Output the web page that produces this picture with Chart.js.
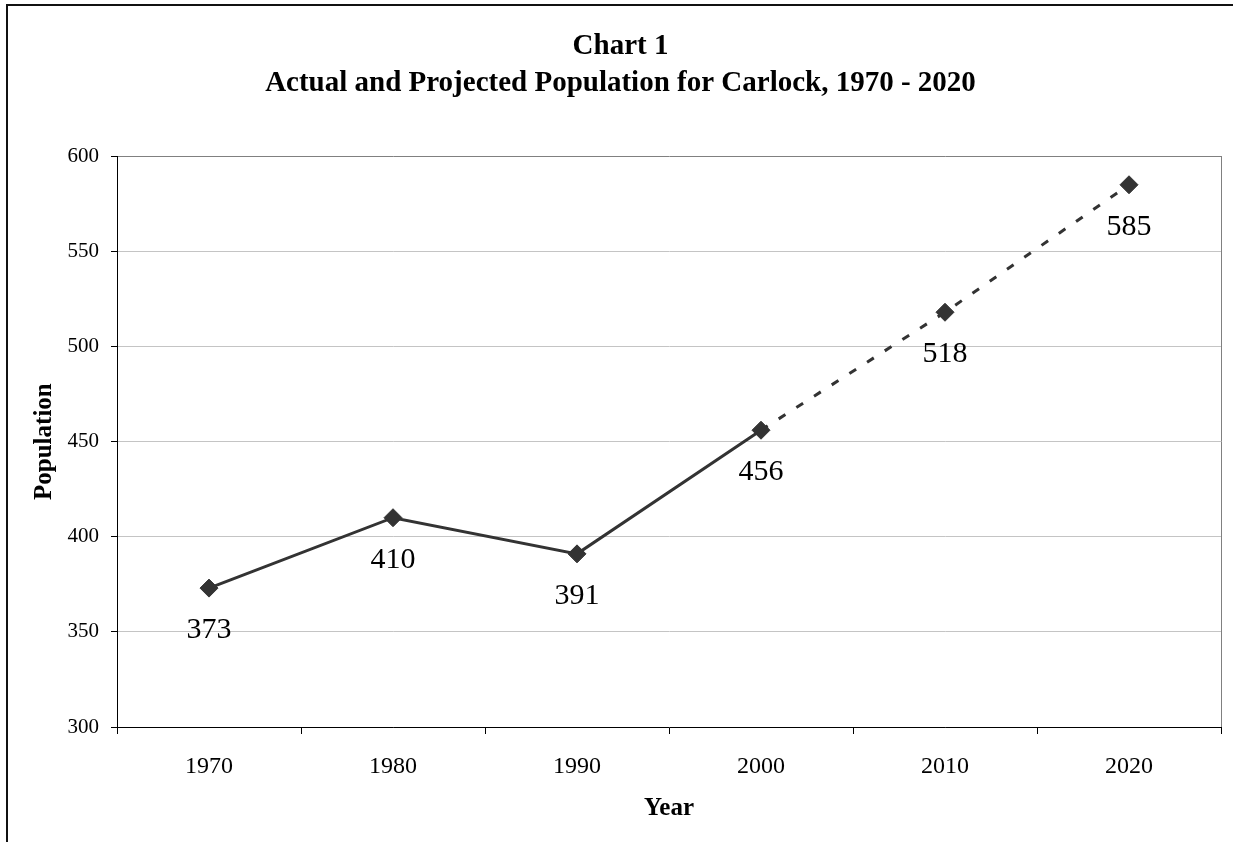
<!DOCTYPE html>
<html>
<head>
<meta charset="utf-8">
<title>Chart 1 - Actual and Projected Population for Carlock, 1970 - 2020</title>
<script src="https://cdn.jsdelivr.net/npm/chart.js@4.4.1/dist/chart.umd.min.js"></script>
<style>
  html, body { margin: 0; padding: 0; background: #fff; overflow: hidden; }
  #wrap { position: relative; width: 1235px; height: 842px; }
  #c { position: absolute; left: 0; top: 0; }
  #frame {
    position: absolute; left: 6px; top: 4px; width: 1227px; height: 840px;
    border-left: 2px solid #111; border-top: 2px solid #111;
    box-sizing: border-box; pointer-events: none;
  }
</style>
</head>
<body>
<div id="wrap">
  <canvas id="c" width="1235" height="842"></canvas>
  <div id="frame"></div>
</div>
<script>
// Census years and population (2010 and 2020 are projections)
const years = ['1970', '1980', '1990', '2000', '2010', '2020'];
const population = [373, 410, 391, 456, 518, 585];
const lastActualIndex = 3;           // 2000 is the last actual count
const yMin = 300, yMax = 600, yStep = 50;

const SERIF = '"Liberation Serif", "Times New Roman", Times, serif';
const INK = '#333333';

// Value printed under each marker
const valueLabels = {
  id: 'valueLabels',
  afterDatasetsDraw(chart) {
    const meta = chart.getDatasetMeta(0);
    const ctx = chart.ctx;
    ctx.save();
    ctx.font = '30px ' + SERIF;
    ctx.fillStyle = '#000';
    ctx.textAlign = 'center';
    ctx.textBaseline = 'middle';
    meta.data.forEach((pt, i) => {
      ctx.fillText(String(population[i]), pt.x, pt.y + 42);
    });
    ctx.restore();
  }
};

// Grey frame along the right edge of the plot area
const plotFrame = {
  id: 'plotFrame',
  beforeDatasetsDraw(chart) {
    const { ctx, chartArea } = chart;
    const x = Math.round(chartArea.right) + 0.5;
    ctx.save();
    ctx.strokeStyle = '#808080';
    ctx.lineWidth = 1;
    ctx.beginPath();
    ctx.moveTo(x, Math.round(chartArea.top));
    ctx.lineTo(x, Math.round(chartArea.bottom));
    ctx.stroke();
    ctx.restore();
  }
};

new Chart(document.getElementById('c'), {
  type: 'line',
  data: {
    labels: years,
    datasets: [{
      label: 'Population',
      data: population,
      borderColor: INK,
      borderWidth: 3,
      borderCapStyle: 'butt',
      tension: 0,
      fill: false,
      pointStyle: 'rectRot',
      pointRadius: 9,
      pointBorderWidth: 1,
      pointBackgroundColor: INK,
      pointBorderColor: INK,
      segment: {
        borderDash: ctx => ctx.p0DataIndex >= lastActualIndex ? [8, 13] : undefined
      }
    }]
  },
  options: {
    responsive: false,
    animation: false,
    events: [],
    layout: { padding: { left: 20, right: 14, top: 0, bottom: 0 } },
    plugins: {
      legend: { display: false },
      tooltip: { enabled: false },
      title: {
        display: true,
        text: ['Chart 1', 'Actual and Projected Population for Carlock, 1970 - 2020'],
        color: '#000',
        font: { family: SERIF, size: 29, weight: 'bold', lineHeight: 1.28 },
        padding: { top: 28, bottom: 54 }
      }
    },
    scales: {
      x: {
        type: 'category',
        offset: true,
        grid: {
          offset: true,
          drawOnChartArea: false,
          drawTicks: true,
          tickLength: 7,
          tickColor: '#000'
        },
        border: { color: '#000', width: 1 },
        ticks: {
          color: '#000',
          font: { family: SERIF, size: 24 },
          padding: 18,
          maxRotation: 0
        },
        title: {
          display: true,
          text: 'Year',
          color: '#000',
          font: { family: SERIF, size: 25, weight: 'bold' },
          padding: { top: 0, bottom: 18 }
        },
        afterFit(scale) { scale.height = 115; }
      },
      y: {
        min: yMin,
        max: yMax,
        grid: {
          color: ctx => (ctx.tick && ctx.tick.value === yMax) ? '#808080' : '#c4c4c4',
          lineWidth: 1,
          drawTicks: true,
          tickLength: 6,
          tickColor: '#000'
        },
        border: { color: '#000', width: 1 },
        ticks: {
          stepSize: yStep,
          color: '#000',
          font: { family: SERIF, size: 21 },
          padding: 12
        },
        title: {
          display: true,
          text: 'Population',
          color: '#000',
          font: { family: SERIF, size: 25, weight: 'bold' },
          padding: { top: 10, bottom: 0 }
        },
        afterFit(scale) { scale.width = 97; }
      }
    }
  },
  plugins: [plotFrame, valueLabels]
});
</script>
</body>
</html>
